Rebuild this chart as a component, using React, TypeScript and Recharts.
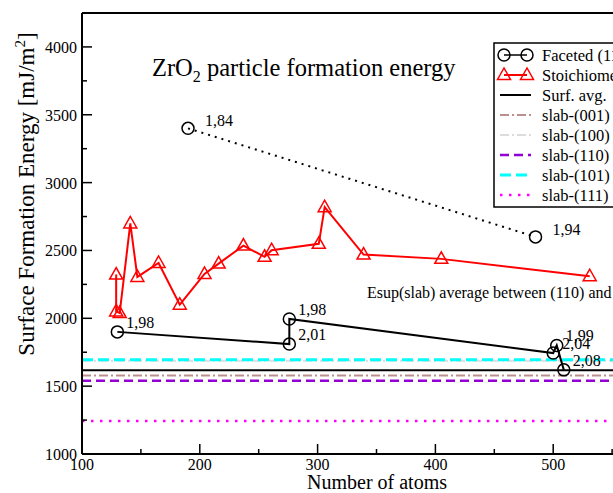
import React from 'react';
import { LineChart, Line, XAxis, YAxis, ReferenceLine, ReferenceDot } from 'recharts';

// ---- data ----
const facetedX = [130, 276, 276, 500, 503, 509];
const facetedY = [1900, 1810, 1995, 1744, 1800, 1620];
const facetedLabels = ['1,98', '2,01', '1,98', '2,04', '1,99', '2,08'];

const dottedX = [190, 485];
const dottedY = [3400, 2600];
const dottedLabels = ['1,84', '1,94'];

const stoichX = [129, 129, 132, 141, 147, 165, 183, 204, 216, 237, 255, 261, 301, 306, 339, 405, 531];
const stoichY = [2322, 2051, 2039, 2699, 2305, 2408, 2100, 2327, 2403, 2536, 2453, 2502, 2549, 2819, 2470, 2438, 2310];

const surfAvgValue = 1617;
const slabNames = ['slab-(001)', 'slab-(100)', 'slab-(110)', 'slab-(101)', 'slab-(111)'];
const slabValues = [1578, 1687, 1539, 1695, 1244];

const legendNames = ['Faceted (111)', 'Stoichiometric', 'Surf. avg.', ...slabNames];

const xTicks = [100, 150, 200, 250, 300, 350, 400, 450, 500, 550, 600];
const yTicks = [1000, 1250, 1500, 1750, 2000, 2250, 2500, 2750, 3000, 3250, 3500, 3750, 4000];

// ---- styles ----
const slabStyles = [
  { stroke: '#bc8f8f', dash: '9 3 2 3', width: 2 },
  { stroke: '#dcdcdc', dash: '9 3 2 3', width: 2 },
  { stroke: '#9400d3', dash: '9 5', width: 2.5 },
  { stroke: '#00ffff', dash: '11 5', width: 3 },
  { stroke: '#ff00ff', dash: '2.5 6.5', width: 2.5 },
];

const FONT = '"Liberation Serif", "Times New Roman", serif';

const facetedData = facetedX.map((x, i) => ({ x, y: facetedY[i], label: facetedLabels[i] }));
const dottedData = dottedX.map((x, i) => ({ x, y: dottedY[i], label: dottedLabels[i] }));
const stoichData = stoichX.map((x, i) => ({ x, y: stoichY[i] }));

const YTick = (props: any) => {
  const { x, y, payload } = props;
  const major = payload.value % 500 === 0;
  return (
    <g>
      <line x1={x} x2={x + (major ? 10 : 5)} y1={y} y2={y} stroke="#000" strokeWidth={1.5} />
      {major && (
        <text x={x - 5} y={y + 6} textAnchor="end" fontSize={16} fontFamily={FONT} fill="#000">
          {payload.value}
        </text>
      )}
    </g>
  );
};

const XTick = (props: any) => {
  const { x, y, payload } = props;
  const major = payload.value % 100 === 0;
  return (
    <g>
      <line x1={x} x2={x} y1={y} y2={y - (major ? 10 : 5)} stroke="#000" strokeWidth={1.5} />
      {major && payload.value < 600 && (
        <text x={x} y={y + 16} textAnchor="middle" fontSize={16} fontFamily={FONT} fill="#000">
          {payload.value}
        </text>
      )}
    </g>
  );
};

const makeCircleDot = (dx: number, dy: number) => (p: any) => {
  const { cx, cy, payload, index } = p;
  return (
    <g key={`c${index}`}>
      <circle cx={cx} cy={cy} r={6} fill="none" stroke="#000" strokeWidth={1.5} />
      <text x={cx + dx} y={cy + dy + 5} fontSize={16} fontFamily={FONT} fill="#000">
        {payload.label}
      </text>
    </g>
  );
};

const triPts = (cx: number, cy: number) =>
  `${cx},${cy - 7} ${cx - 6.5},${cy + 4.5} ${cx + 6.5},${cy + 4.5}`;

const TriDot = (p: any) => {
  const { cx, cy, index } = p;
  return <polygon key={`t${index}`} points={triPts(cx, cy)} fill="none" stroke="#ff0000" strokeWidth={1.5} />;
};

const Legend = () => {
  const rowY = (i: number) => 55 + 20 * i;
  const x1 = 500;
  const x2 = 531;
  return (
    <g>
      <rect x={494} y={43} width={220} height={164} fill="#fff" stroke="#000" strokeWidth={1.5} />
      {/* faceted */}
      <line x1={x1 + 4} x2={x2 - 4} y1={rowY(0)} y2={rowY(0)} stroke="#000" strokeWidth={1.5} />
      <circle cx={x1 + 4} cy={rowY(0)} r={6} fill="none" stroke="#000" strokeWidth={1.5} />
      <circle cx={x2 - 4} cy={rowY(0)} r={6} fill="none" stroke="#000" strokeWidth={1.5} />
      {/* stoich */}
      <line x1={x1 + 4} x2={x2 - 4} y1={rowY(1)} y2={rowY(1)} stroke="#ff0000" strokeWidth={2} />
      <polygon points={triPts(x1 + 4, rowY(1))} fill="none" stroke="#ff0000" strokeWidth={1.5} />
      <polygon points={triPts(x2 - 4, rowY(1))} fill="none" stroke="#ff0000" strokeWidth={1.5} />
      {/* surf avg */}
      <line x1={x1} x2={x2} y1={rowY(2)} y2={rowY(2)} stroke="#000" strokeWidth={2} />
      {slabStyles.map((s, i) => (
        <line
          key={i}
          x1={x1}
          x2={x2}
          y1={rowY(3 + i)}
          y2={rowY(3 + i)}
          stroke={s.stroke}
          strokeWidth={s.width}
          strokeDasharray={s.dash}
        />
      ))}
      {legendNames.map((n, i) => (
        <text key={n} x={542} y={rowY(i) + 5.5} fontSize={16.5} fontFamily={FONT} fill="#000">
          {n}
        </text>
      ))}
    </g>
  );
};

export default function App() {
  return (
    <div
      style={{
        position: 'fixed',
        left: 0,
        top: 0,
        width: 613,
        height: 493,
        overflow: 'hidden',
        background: '#fff',
        fontFamily: FONT,
      }}
    >
      <LineChart width={700} height={493} margin={{ top: 13, right: 29, bottom: 9, left: 0 }}>
        <XAxis
          type="number"
          dataKey="x"
          domain={[100, 600]}
          ticks={xTicks}
          tick={<XTick />}
          tickSize={0}
          tickMargin={0}
          height={30}
          axisLine={{ stroke: '#000', strokeWidth: 2 }}
          tickLine={false}
          allowDataOverflow
          interval={0}
        />
        <YAxis
          type="number"
          domain={[1000, 4250]}
          ticks={yTicks}
          tick={<YTick />}
          tickSize={0}
          tickMargin={0}
          width={82}
          axisLine={{ stroke: '#000', strokeWidth: 2 }}
          tickLine={false}
          allowDataOverflow
          interval={0}
        />
        <ReferenceLine y={4250} stroke="#000" strokeWidth={2} ifOverflow="extendDomain" />
        <ReferenceLine x={600} stroke="#000" strokeWidth={2} />
        {slabValues.map((v, i) => (
          <ReferenceLine
            key={slabNames[i]}
            y={v}
            stroke={slabStyles[i].stroke}
            strokeWidth={slabStyles[i].width}
            strokeDasharray={slabStyles[i].dash}
          />
        ))}
        <ReferenceLine y={surfAvgValue} stroke="#000" strokeWidth={2} />
        <ReferenceDot
          x={341}
          y={2189}
          r={1}
          fill="none"
          stroke="none"
          label={{
            value: 'Esup(slab) average between (110) and (101)',
            position: 'right',
            offset: 0,
            fontSize: 16,
            fill: '#000',
            fontFamily: FONT,
          }}
        />
        <Line
          data={stoichData}
          dataKey="y"
          stroke="#ff0000"
          strokeWidth={2}
          dot={TriDot}
          activeDot={false}
          isAnimationActive={false}
        />
        <Line
          data={dottedData}
          dataKey="y"
          stroke="#000"
          strokeWidth={2}
          strokeDasharray="2 5"
          dot={makeCircleDot(17, -7)}
          activeDot={false}
          isAnimationActive={false}
        />
        <Line
          data={facetedData}
          dataKey="y"
          stroke="#000"
          strokeWidth={2}
          dot={makeCircleDot(9, -9)}
          activeDot={false}
          isAnimationActive={false}
        />
      </LineChart>
      <svg
        width={613}
        height={493}
        style={{ position: 'absolute', left: 0, top: 0, pointerEvents: 'none' }}
      >
        <text x={152} y={76} fontSize={24.5} fontFamily={FONT} fill="#000">
          ZrO<tspan dy={6} fontSize={16}>2</tspan>
          <tspan dy={-6}> particle formation energy</tspan>
        </text>
        <text
          transform="translate(34,194) rotate(-90)"
          textAnchor="middle"
          fontSize={23}
          fontFamily={FONT}
          fill="#000"
        >
          Surface Formation Energy [mJ/m<tspan dy={-9} fontSize={15}>2</tspan>
          <tspan dy={9}>]</tspan>
        </text>
        <text x={377} y={489} textAnchor="middle" fontSize={20} fontFamily={FONT} fill="#000">
          Number of atoms
        </text>
        <Legend />
      </svg>
    </div>
  );
}
